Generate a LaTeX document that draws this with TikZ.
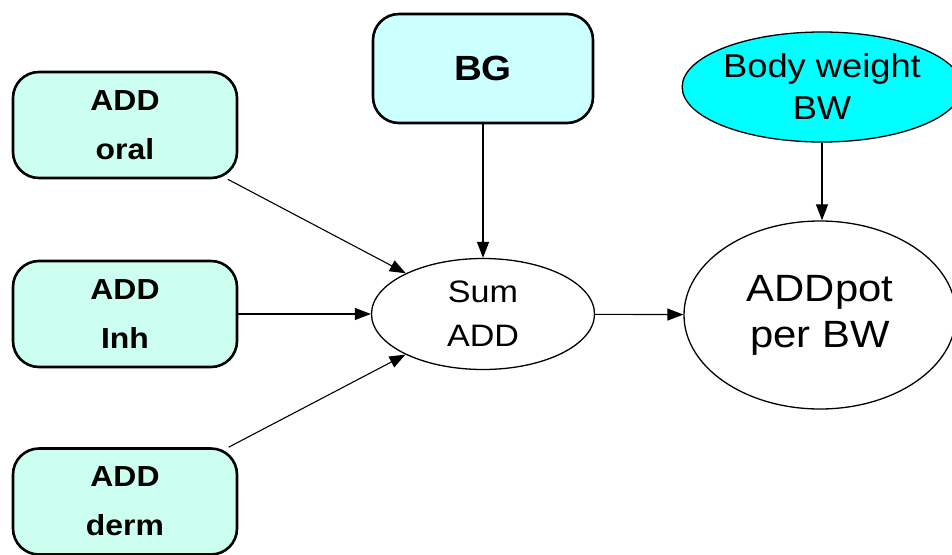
\documentclass[tikz,border=0pt]{standalone}
\usepackage{fontspec}
\setmainfont{Liberation Sans}[FakeStretch=1.1]
\usetikzlibrary{shapes.geometric,arrows.meta}
\definecolor{inputfill}{RGB}{204,255,240}
\definecolor{bgfill}{RGB}{204,255,255}
\definecolor{bwfill}{RGB}{0,255,255}
\tikzset{
  inputbox/.style={draw=black, line width=2.6pt, rounded corners=26pt, fill=inputfill,
    minimum width=224pt, minimum height=106pt, inner sep=0pt, align=center,
    font=\fontsize{29}{49}\selectfont\bfseries},
  calcnode/.style={draw=black, line width=1.3pt, ellipse, fill=white, inner sep=0pt, align=center},
  link/.style={draw=black, line width=1.1pt, -{Triangle[length=16pt,width=12pt]}}
}
\begin{document}
\begin{tikzpicture}[x=1pt,y=-1pt]
  \useasboundingbox (0,0) rectangle (952,554);
  % exposure inputs
  \node[inputbox] (oral) at (125,125) {ADD\\oral};
  \node[inputbox] (inh)  at (125,314) {ADD\\Inh};
  \node[inputbox] (derm) at (125,501.5) {ADD\\derm};
  \node[inputbox, fill=bgfill, minimum width=220pt, minimum height=109pt,
        font=\fontsize{35}{40}\selectfont\bfseries] (bg) at (483,68.5) {BG};
  % body weight
  \node[calcnode, fill=bwfill, minimum width=222pt, minimum height=110pt,
        font=\fontsize{33}{42}\selectfont] (bw) at (822,87) {Body weight\\BW};
  % aggregation
  \node[calcnode, minimum width=223pt, minimum height=111pt,
        font=\fontsize{31}{44}\selectfont] (sum) at (483,314) {Sum\\ADD};
  \node[calcnode, minimum width=272pt, minimum height=188pt,
        font=\fontsize{38}{46}\selectfont] (pot) at (820,315) {ADDpot\\per BW};
  % connectors
  \draw[link] (oral) -- (sum);
  \draw[link] (inh) -- (sum);
  \draw[link] (derm) -- (sum);
  \draw[link] (bg) -- (sum);
  \draw[link] (sum) -- (pot);
  \draw[link] (bw.south) -- (bw.south |- pot.north);
\end{tikzpicture}
\end{document}
